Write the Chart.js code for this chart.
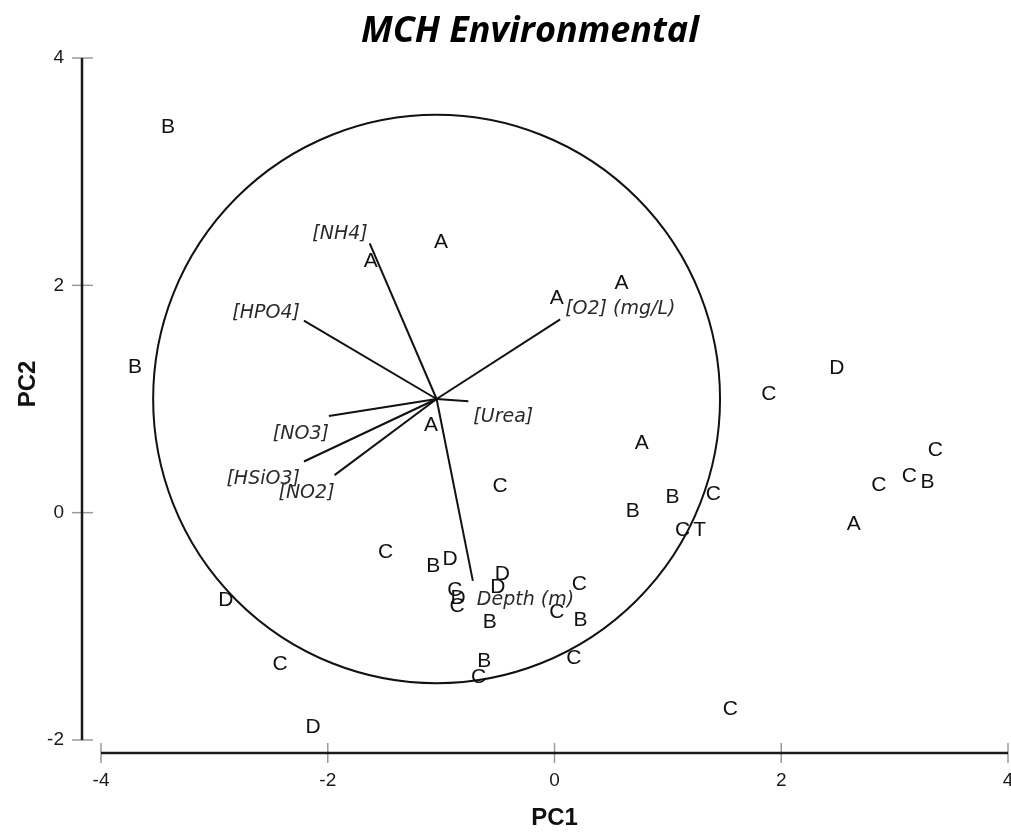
<!DOCTYPE html>
<html>
<head>
<meta charset="utf-8">
<title>MCH Environmental</title>
<script src="https://cdn.jsdelivr.net/npm/chart.js@4.4.1/dist/chart.umd.min.js"></script>
<style>
  html, body { margin: 0; padding: 0; background: #ffffff; }
  #wrap { width: 1011px; height: 833px; }
</style>
</head>
<body>
<div id="wrap"><canvas id="pca" width="1011" height="833"></canvas></div>
<script>
// ---- data -------------------------------------------------------------
const chartTitle = 'MCH Environmental';
const xAxisTitle = 'PC1';
const yAxisTitle = 'PC2';
const xTicks = [-4, -2, 0, 2, 4];
const yTicks = [-2, 0, 2, 4];

// sample scores on PC1/PC2, one list per site group
const sitesA = [[-1.00, 2.38], [-1.62, 2.21], [0.59, 2.02], [0.02, 1.89], [-1.09, 0.77], [0.77, 0.61], [2.64, -0.10]];
const sitesB = [[-3.41, 3.39], [-3.70, 1.28], [1.04, 0.14], [3.29, 0.27], [0.69, 0.01], [-1.07, -0.47], [0.23, -0.95], [-0.57, -0.96], [-0.62, -1.31]];
const sitesC = [[1.89, 1.04], [3.36, 0.55], [3.13, 0.32], [2.86, 0.24], [-0.48, 0.23], [1.40, 0.16], [1.13, -0.15], [-1.49, -0.35],
                [-0.88, -0.68], [-0.86, -0.82], [0.22, -0.63], [0.02, -0.88], [0.17, -1.28], [-2.42, -1.33], [-0.67, -1.45], [1.55, -1.73]];
const sitesD = [[2.49, 1.27], [-0.92, -0.41], [-0.46, -0.54], [-0.50, -0.66], [-0.85, -0.75], [-2.90, -0.77], [-2.13, -1.89]];
const sitesT = [[1.28, -0.15]];
const groupNames = ['A', 'B', 'C', 'D', 'T'];
const groupSites = [sitesA, sitesB, sitesC, sitesD, sitesT];

// environmental loadings (vector tips), all drawn from a common origin
const vectorOrigin = [-1.04, 1.00];
const variableNames = ['[NH4]', '[HPO4]', '[O2] (mg/L)', '[Urea]', '[NO3]', '[HSiO3]', '[NO2]', 'Depth (m)'];
const loadingX = [-1.63, -2.21, 0.05, -0.76, -1.99, -2.21, -1.94, -0.72];
const loadingY = [2.37, 1.69, 1.70, 0.98, 0.85, 0.45, 0.33, -0.60];

// correlation circle
const circleCenter = [-1.04, 1.00];
const circleRadius = 2.5;

// ---- label placement for the vector names (pixels from the tip) ------
const vectorLabelStyle = [
  { dx: -2, dy: -9, align: 'right' },
  { dx: -4, dy: -8, align: 'right' },
  { dx: 5, dy: -10, align: 'left' },
  { dx: 5, dy: 16, align: 'left' },
  { dx: 0, dy: 18, align: 'right' },
  { dx: -4, dy: 18, align: 'right' },
  { dx: 0, dy: 18, align: 'right' },
  { dx: 4, dy: 19, align: 'left' }
];

// ---- datasets ----------------------------------------------------------
const siteDatasets = groupNames.map((g, i) => ({
  label: g,
  kind: 'site',
  data: groupSites[i].map(p => ({ x: p[0], y: p[1] })),
  pointRadius: 0,
  showLine: false
}));

const vectorDatasets = variableNames.map((name, i) => ({
  label: name,
  kind: 'vector',
  labelIndex: i,
  data: [{ x: vectorOrigin[0], y: vectorOrigin[1] }, { x: loadingX[i], y: loadingY[i] }],
  showLine: true,
  borderColor: '#111111',
  borderWidth: 2,
  pointRadius: 0,
  fill: false
}));

// ---- plugins -----------------------------------------------------------
const circlePlugin = {
  id: 'circle',
  beforeDatasetsDraw(chart) {
    const { ctx, scales: { x, y } } = chart;
    const cx = x.getPixelForValue(circleCenter[0]);
    const cy = y.getPixelForValue(circleCenter[1]);
    const rx = x.getPixelForValue(circleCenter[0] + circleRadius) - cx;
    const ry = cy - y.getPixelForValue(circleCenter[1] + circleRadius);
    ctx.save();
    ctx.beginPath();
    ctx.ellipse(cx, cy, rx, ry, 0, 0, Math.PI * 2);
    ctx.lineWidth = 2;
    ctx.strokeStyle = '#111111';
    ctx.stroke();
    ctx.restore();
  }
};

const labelPlugin = {
  id: 'labels',
  afterDatasetsDraw(chart) {
    const { ctx } = chart;
    ctx.save();
    chart.data.datasets.forEach((ds, di) => {
      const meta = chart.getDatasetMeta(di);
      if (ds.kind === 'site') {
        ctx.font = '21px "Liberation Sans", Arial, sans-serif';
        ctx.fillStyle = '#111111';
        ctx.textAlign = 'center';
        ctx.textBaseline = 'middle';
        meta.data.forEach(pt => ctx.fillText(ds.label, pt.x, pt.y));
      } else if (ds.kind === 'vector') {
        const tip = meta.data[1];
        const st = vectorLabelStyle[ds.labelIndex];
        ctx.font = 'italic 19px "DejaVu Sans", "Open Sans", sans-serif';
        ctx.fillStyle = '#2a2a2a';
        ctx.textAlign = st.align;
        ctx.textBaseline = 'middle';
        ctx.fillText(ds.label, tip.x + st.dx, tip.y + st.dy);
      }
    });
    ctx.restore();
  }
};

// detached axis lines with cross ticks
const axisPlugin = {
  id: 'axes',
  afterDraw(chart) {
    const { ctx, chartArea, scales: { x, y } } = chart;
    const yLineX = chartArea.left - 19;
    const xLineY = chartArea.bottom + 13;
    ctx.save();
    ctx.strokeStyle = '#9a9a9a';
    ctx.lineWidth = 1.5;
    y.ticks.forEach(t => {
      const py = y.getPixelForValue(t.value);
      ctx.beginPath(); ctx.moveTo(yLineX - 10, py); ctx.lineTo(yLineX + 11, py); ctx.stroke();
    });
    x.ticks.forEach(t => {
      const px = x.getPixelForValue(t.value);
      ctx.beginPath(); ctx.moveTo(px, xLineY - 10); ctx.lineTo(px, xLineY + 10); ctx.stroke();
    });
    ctx.strokeStyle = '#1a1a1a';
    ctx.lineWidth = 2.5;
    ctx.beginPath();
    ctx.moveTo(yLineX, y.getPixelForValue(y.max));
    ctx.lineTo(yLineX, y.getPixelForValue(y.min));
    ctx.stroke();
    ctx.beginPath();
    ctx.moveTo(x.getPixelForValue(x.min), xLineY);
    ctx.lineTo(x.getPixelForValue(x.max), xLineY);
    ctx.stroke();
    ctx.restore();
  }
};

// chart title and the vertical axis title
const titlePlugin = {
  id: 'titles',
  afterDraw(chart) {
    const { ctx } = chart;
    ctx.save();
    ctx.font = 'italic bold 36px "Open Sans", "DejaVu Sans", sans-serif';
    ctx.fillStyle = '#000000';
    ctx.textAlign = 'center';
    ctx.textBaseline = 'alphabetic';
    ctx.fillText(chartTitle, 530, 42);

    ctx.translate(28, 384);
    ctx.rotate(-Math.PI / 2);
    ctx.font = 'bold 24px "Liberation Sans", Arial, sans-serif';
    ctx.fillStyle = '#111111';
    ctx.textBaseline = 'middle';
    ctx.fillText(yAxisTitle, 0, 0);
    ctx.restore();
  }
};

// ---- chart -------------------------------------------------------------
new Chart(document.getElementById('pca'), {
  type: 'scatter',
  data: { datasets: [...vectorDatasets, ...siteDatasets] },
  options: {
    responsive: false,
    animation: false,
    devicePixelRatio: 1,
    layout: { padding: { top: 58, right: 3, left: 0, bottom: 0 } },
    plugins: { legend: { display: false }, tooltip: { enabled: false }, title: { display: false } },
    scales: {
      x: {
        type: 'linear',
        min: xTicks[0], max: xTicks[xTicks.length - 1],
        afterBuildTicks: s => { s.ticks = xTicks.map(v => ({ value: v })); },
        afterFit: s => { s.height = 93; s.paddingLeft = 0; s.paddingRight = 0; },
        grid: { display: false, drawTicks: false },
        border: { display: false },
        ticks: { padding: 29, color: '#1a1a1a', font: { family: '"Liberation Sans", Arial, sans-serif', size: 19 } },
        title: { display: true, text: xAxisTitle, color: '#111111', padding: { top: 0, bottom: 0 },
                 font: { family: '"Liberation Sans", Arial, sans-serif', size: 24, weight: 'bold' } }
      },
      y: {
        type: 'linear',
        min: yTicks[0], max: yTicks[yTicks.length - 1],
        afterBuildTicks: s => { s.ticks = yTicks.map(v => ({ value: v })); },
        afterFit: s => { s.width = 101; s.paddingTop = 0; s.paddingBottom = 0; },
        grid: { display: false, drawTicks: false },
        border: { display: false },
        ticks: { padding: 37, color: '#1a1a1a', font: { family: '"Liberation Sans", Arial, sans-serif', size: 19 } },
        title: { display: false }
      }
    }
  },
  plugins: [circlePlugin, labelPlugin, axisPlugin, titlePlugin]
});
</script>
</body>
</html>
